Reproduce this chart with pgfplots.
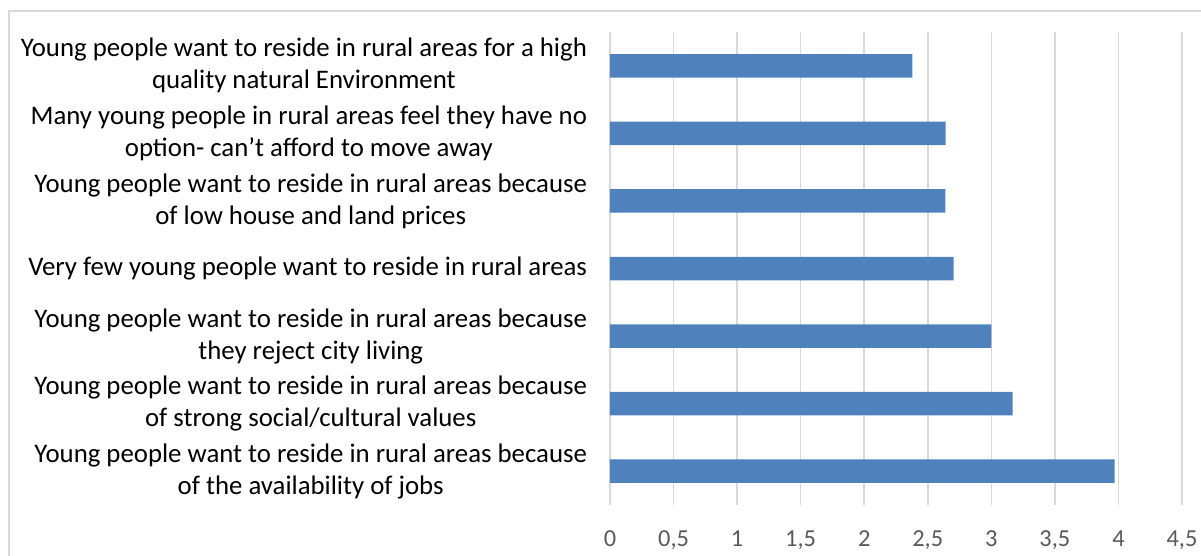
\documentclass[border=0pt]{standalone}
\usepackage{pgfplots}
\pgfplotsset{compat=1.18}
\usepackage{fontspec}
\setmainfont{Carlito}
\definecolor{barblue}{HTML}{4F81BD}
\definecolor{gridgray}{HTML}{D9D9D9}
\definecolor{tickgray}{HTML}{595959}
\begin{document}
\begin{tikzpicture}
\path[use as bounding box] (-305bp,-25.5bp) rectangle (295.5bp,252.5bp);
\draw[gridgray, line width=0.75bp] (-300.5bp,-30bp) -- (-300.5bp,247bp) -- (300bp,247bp);
\begin{axis}[
  at={(0,0)}, anchor=south west,
  scale only axis,
  width=286bp, height=236.5bp,
  xbar, bar width=11.75bp,
  xmin=0, xmax=4.5,
  ymin=-0.5, ymax=6.5,
  xtick={0,0.5,...,4.5},
  ytick={0,1,2,3,4,5,6},
  yticklabels={
    {Young people want to reside in rural areas because\\of the availability of jobs},
    {Young people want to reside in rural areas because\\of strong social/cultural values},
    {Young people want to reside in rural areas because\\they reject city living},
    {Very few young people want to reside in rural areas},
    {Young people want to reside in rural areas because\\of low house and land prices},
    {Many young people in rural areas feel they have no\\option- can’t afford to move away},
    {Young people want to reside in rural areas for a high\\quality natural Environment}
  },
  yticklabel style={align=center, font=\fontsize{13.4bp}{16bp}\selectfont, text=black, xshift=-8bp},
  xticklabel style={font=\fontsize{12.2bp}{14bp}\selectfont, text=tickgray, yshift=-9.5bp},
  /pgf/number format/assume math mode=true,
  /pgf/number format/use comma,
  /pgf/number format/fixed,
  major tick length=0pt,
  axis line style={draw=none},
  xmajorgrids,
  grid style={gridgray, line width=0.75bp},
]
\addplot[fill=barblue, draw=none] coordinates {
  (3.97,0) (3.167,1) (3.0,2) (2.704,3) (2.639,4) (2.64,5) (2.378,6)
};
\end{axis}
\end{tikzpicture}
\end{document}
